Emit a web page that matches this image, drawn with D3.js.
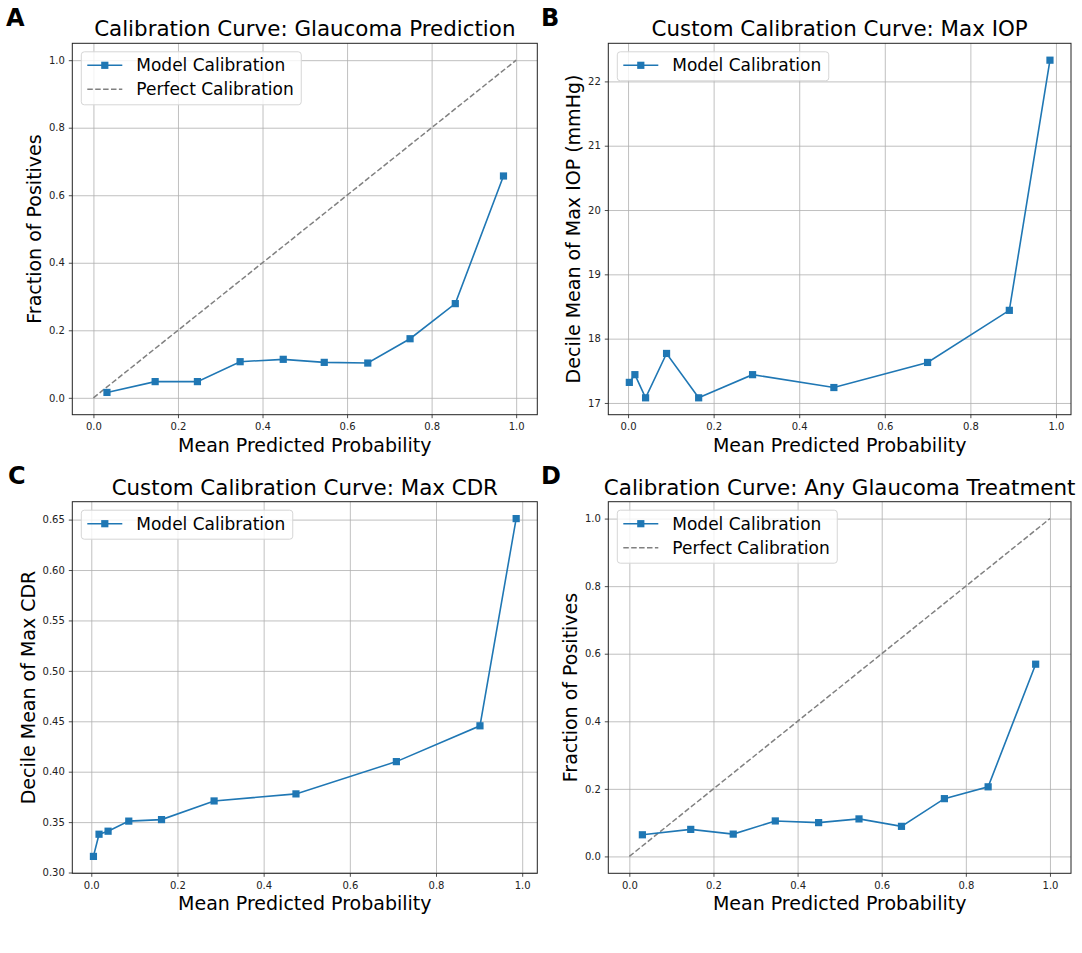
<!DOCTYPE html>
<html lang="en">
<head>
    <meta charset="UTF-8">
    <title>Calibration curves</title>
    <script src="https://cdn.jsdelivr.net/npm/d3@7"></script>
    <style>
        body{
            margin: 0;
            background: #fff;
            font-family: "DejaVu Sans", sans-serif;
        }
    </style>
</head>
<body>
<svg id="main" width="1082" height="953"></svg>
<script>

    // values
    const aProb = [0.032, 0.146, 0.246, 0.347, 0.449, 0.546, 0.649, 0.749, 0.856, 0.970];
    const aFrac = [0.016, 0.048, 0.048, 0.107, 0.114, 0.105, 0.103, 0.175, 0.279, 0.657];

    const bProb = [0.003, 0.016, 0.041, 0.090, 0.165, 0.291, 0.481, 0.700, 0.891, 0.986];
    const bIop  = [17.32, 17.44, 17.08, 17.77, 17.08, 17.44, 17.24, 17.63, 18.44, 22.33];

    const cProb = [0.005, 0.018, 0.039, 0.087, 0.163, 0.285, 0.475, 0.708, 0.902, 0.986];
    const cCdr  = [0.316, 0.338, 0.341, 0.351, 0.3525, 0.371, 0.378, 0.410, 0.4455, 0.651];

    const dProb = [0.031, 0.146, 0.247, 0.347, 0.450, 0.546, 0.647, 0.749, 0.853, 0.966];
    const dFrac = [0.064, 0.080, 0.066, 0.105, 0.100, 0.111, 0.089, 0.171, 0.206, 0.569];

    const probTicks = [0, 0.2, 0.4, 0.6, 0.8, 1.0];
    const fracTicks = [0, 0.2, 0.4, 0.6, 0.8, 1.0];
    const iopTicks  = [17, 18, 19, 20, 21, 22];
    const cdrTicks  = [0.30, 0.35, 0.40, 0.45, 0.50, 0.55, 0.60, 0.65];

    const blue = '#1f77b4';

    const cols = [[72.3, 537.3], [608.3, 1071]];
    const rows = [[43.3, 414.7], [501.7, 873.3]];

    const panels = [
        {letter: 'A', lx: 6, ly: 26, col: 0, row: 0, title: 'Calibration Curve: Glaucoma Prediction',
         ylabel: 'Fraction of Positives', xs: aProb, ys: aFrac, yTicks: fracTicks, fmt: d3.format('.1f'), perfect: true},
        {letter: 'B', lx: 541, ly: 26, col: 1, row: 0, title: 'Custom Calibration Curve: Max IOP',
         ylabel: 'Decile Mean of Max IOP (mmHg)', xs: bProb, ys: bIop, yTicks: iopTicks, fmt: d3.format('d'), perfect: false},
        {letter: 'C', lx: 8, ly: 483.5, col: 0, row: 1, title: 'Custom Calibration Curve: Max CDR',
         ylabel: 'Decile Mean of Max CDR', xs: cProb, ys: cCdr, yTicks: cdrTicks, fmt: d3.format('.2f'), perfect: false},
        {letter: 'D', lx: 541, ly: 483.5, col: 1, row: 1, title: 'Calibration Curve: Any Glaucoma Treatment',
         ylabel: 'Fraction of Positives', xs: dProb, ys: dFrac, yTicks: fracTicks, fmt: d3.format('.1f'), perfect: true}
    ];

    const svg = d3.select('svg#main');

    // matplotlib style 5% padding around the data
    function padded(vals){
        const [lo, hi] = d3.extent(vals);
        const m = (hi - lo) * 0.05;
        return [lo - m, hi + m];
    }

    panels.forEach(p => {
        const [x0, x1] = cols[p.col];
        const [y0, y1] = rows[p.row];
        const xVals = p.perfect ? p.xs.concat([0, 1]) : p.xs;
        const yVals = p.perfect ? p.ys.concat([0, 1]) : p.ys;

        const x = d3.scaleLinear().domain(padded(xVals)).range([x0, x1]);
        const y = d3.scaleLinear().domain(padded(yVals)).range([y1, y0]);

        const g = svg.append('g');

        // grid
        g.append('g')
            .attr('transform', `translate(0,${y1})`)
            .call(d3.axisBottom(x).tickValues(probTicks).tickSize(-(y1 - y0)).tickFormat(''))
            .call(a => a.select('.domain').remove())
            .selectAll('line').attr('stroke', '#b0b0b0').attr('stroke-width', 0.8);
        g.append('g')
            .attr('transform', `translate(${x0},0)`)
            .call(d3.axisLeft(y).tickValues(p.yTicks).tickSize(-(x1 - x0)).tickFormat(''))
            .call(a => a.select('.domain').remove())
            .selectAll('line').attr('stroke', '#b0b0b0').attr('stroke-width', 0.8);

        // perfect calibration diagonal
        if (p.perfect) {
            g.append('path')
                .datum([0, 1])
                .attr('fill', 'none')
                .attr('stroke', 'gray')
                .attr('stroke-width', 1.5)
                .attr('stroke-dasharray', '5.5,2.4')
                .attr('d', d3.line().x(d => x(d)).y(d => y(d)));
        }

        // model curve
        const pts = p.xs.map((v, i) => [v, p.ys[i]]);
        g.append('path')
            .datum(pts)
            .attr('fill', 'none')
            .attr('stroke', blue)
            .attr('stroke-width', 1.6)
            .attr('d', d3.line().x(d => x(d[0])).y(d => y(d[1])));
        g.selectAll('.pt')
            .data(pts)
            .enter()
            .append('rect')
            .attr('x', d => x(d[0]) - 3.6)
            .attr('y', d => y(d[1]) - 3.6)
            .attr('width', 7.2)
            .attr('height', 7.2)
            .attr('fill', blue);

        // frame
        g.append('rect')
            .attr('x', x0).attr('y', y0)
            .attr('width', x1 - x0).attr('height', y1 - y0)
            .attr('fill', 'none')
            .attr('stroke', '#222')
            .attr('stroke-width', 1);

        // tick axes
        const xa = g.append('g')
            .attr('transform', `translate(0,${y1})`)
            .call(d3.axisBottom(x).tickValues(probTicks).tickSize(3.5).tickPadding(5).tickFormat(d3.format('.1f')));
        const ya = g.append('g')
            .attr('transform', `translate(${x0},0)`)
            .call(d3.axisLeft(y).tickValues(p.yTicks).tickSize(3.5).tickPadding(4).tickFormat(p.fmt));
        [xa, ya].forEach(a => {
            a.select('.domain').remove();
            a.selectAll('line').attr('stroke', '#222').attr('stroke-width', 0.8);
            a.selectAll('text').attr('fill', '#222').style('font-size', '10px').style('font-family', '"DejaVu Sans"');
        });

        // titles and labels
        g.append('text')
            .attr('x', (x0 + x1) / 2).attr('y', y0 - 7)
            .attr('text-anchor', 'middle')
            .style('font-size', '21.4px')
            .text(p.title);

        g.append('text')
            .attr('x', (x0 + x1) / 2).attr('y', y1 + 37)
            .attr('text-anchor', 'middle')
            .style('font-size', '19px')
            .text('Mean Predicted Probability');

        let tw = 0;
        ya.selectAll('text').each(function(){ tw = Math.max(tw, this.getComputedTextLength()); });
        const lx = x0 - 7.5 - tw - 8;
        g.append('text')
            .attr('transform', `translate(${lx},${(y0 + y1) / 2}) rotate(-90)`)
            .attr('text-anchor', 'middle')
            .style('font-size', '19px')
            .text(p.ylabel);

        svg.append('text')
            .attr('x', p.lx).attr('y', p.ly)
            .style('font-size', '24px')
            .style('font-weight', 'bold')
            .text(p.letter);

        // legend
        const items = [{name: 'Model Calibration', dash: null}];
        if (p.perfect) items.push({name: 'Perfect Calibration', dash: true});
        const lg = g.append('g').attr('transform', `translate(${x0 + 9},${y0 + 8.5})`);
        const box = lg.append('rect')
            .attr('rx', 3)
            .attr('fill', 'white')
            .attr('fill-opacity', 0.8)
            .attr('stroke', '#d6d6d6')
            .attr('stroke-width', 1);
        let maxW = 0;
        items.forEach((it, i) => {
            const cy = 13.5 + i * 24;
            const row = lg.append('g');
            row.append('line')
                .attr('x1', 6).attr('x2', 41).attr('y1', cy).attr('y2', cy)
                .attr('stroke', it.dash ? 'gray' : blue)
                .attr('stroke-width', 1.5)
                .attr('stroke-dasharray', it.dash ? '5.5,2.4' : null);
            if (!it.dash) {
                row.append('rect')
                    .attr('x', 23.5 - 3.6).attr('y', cy - 3.6)
                    .attr('width', 7.2).attr('height', 7.2)
                    .attr('fill', blue);
            }
            const t = row.append('text')
                .attr('x', 55).attr('y', cy + 6)
                .style('font-size', '17px')
                .text(it.name);
            maxW = Math.max(maxW, t.node().getComputedTextLength());
        });
        box.attr('width', 55 + maxW + 7.5).attr('height', 5 + items.length * 24);
    });

</script>

</body>
</html>
